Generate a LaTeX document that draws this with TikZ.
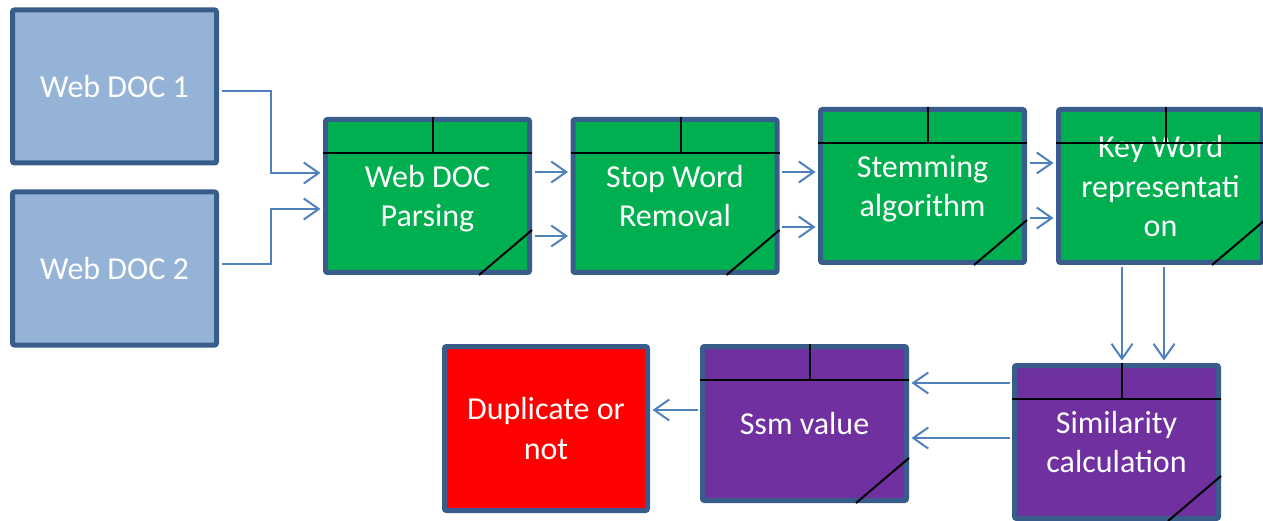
\documentclass[tikz,border=0pt]{standalone}
\usepackage{fontspec}
\setmainfont{Carlito}
\usetikzlibrary{arrows.meta,calc}
\definecolor{bluefill}{HTML}{95B3D7}
\definecolor{bordercol}{HTML}{385D8A}
\definecolor{greenfill}{HTML}{00B050}
\definecolor{purplefill}{HTML}{7030A0}
\definecolor{redfill}{HTML}{FF0000}
\definecolor{conncol}{HTML}{4F81BD}
\tikzset{
  procbox/.style={draw=bordercol, line width=5pt, rounded corners=2pt,
    minimum width=204pt, minimum height=153pt, inner sep=0pt,
    text=white, align=center, font=\fontsize{32}{39.5}\selectfont,
    text depth=0pt},
  docbox/.style={procbox, fill=bluefill},
  greenbox/.style={procbox, fill=greenfill},
  purplebox/.style={procbox, fill=purplefill},
  redbox/.style={procbox, fill=redfill},
  innerline/.style={draw=black, line width=2pt},
  conn/.style={draw=conncol, line width=2pt, shorten >=2.5pt,
    -{Straight Barb[length=15pt,width=21pt,line width=2pt]}},
}
\newcommand{\boxdeco}[1]{%
  \draw[innerline] ($(#1.north west)+(0,36)$) -- ($(#1.north east)+(0,36)$);
  \draw[innerline] ($(#1.north)+(5.5,0)$) -- ($(#1.north)+(5.5,36)$);
  \draw[innerline] ($(#1.south east)+(-53,0)$) -- ($(#1.south east)+(0,-45)$);
}
\begin{document}
\begin{tikzpicture}[x=1pt,y=-1pt]
\useasboundingbox (0,0) rectangle (1263,521);

\path (114.5,86.5) node[docbox] (w1) {Web DOC 1};
\path (114.5,268.5) node[docbox] (w2) {Web DOC 2};
\path (427.5,196) node[greenbox] (g1) {Web DOC\\Parsing};
\path (675,196) node[greenbox] (g2) {Stop Word\\Removal};
\path (922.5,186) node[greenbox] (g3) {Stemming\\algorithm};
\path (1160.5,186) node[greenbox] (g4) {Key Word\\representati\\on};
\path (546,428.5) node[redbox, minimum width=203pt, minimum height=164pt] (rd) {Duplicate or\\not};
\path (804.5,423.5) node[purplebox, minimum height=154pt] (ssm) {Ssm value};
\path (1116.5,442) node[purplebox] (sim) {Similarity\\calculation};

\foreach \n in {g1,g2,g3,g4,ssm,sim}{\boxdeco{\n}}

\draw[conn] ($(w1.east|-0,91)+(2.5,0)$) -- (271,91) -- (271,173) -- (g1.west|-0,173);
\draw[conn] ($(w2.east|-0,264)+(2.5,0)$) -- (271,264) -- (271,209) -- (g1.west|-0,209);
\draw[conn] ($(g1.east|-0,172)+(2.5,0)$) -- (g2.west|-0,172);
\draw[conn] ($(g1.east|-0,236)+(2.5,0)$) -- (g2.west|-0,236);
\draw[conn] ($(g2.east|-0,172)+(2.5,0)$) -- (g3.west|-0,172);
\draw[conn] ($(g2.east|-0,227)+(2.5,0)$) -- (g3.west|-0,227);
\draw[conn] ($(g3.east|-0,163)+(2.5,0)$) -- (g4.west|-0,163);
\draw[conn] ($(g3.east|-0,218)+(2.5,0)$) -- (g4.west|-0,218);
\draw[conn] ($(g4.south-|1122,0)+(0,2.5)$) -- (sim.north-|1122,0);
\draw[conn] ($(g4.south-|1164,0)+(0,2.5)$) -- (sim.north-|1164,0);
\draw[conn] ($(sim.west|-0,383)+(-2.5,0)$) -- (ssm.east|-0,383);
\draw[conn] ($(sim.west|-0,438)+(-2.5,0)$) -- (ssm.east|-0,438);
\draw[conn] ($(ssm.west|-0,410)+(-2.5,0)$) -- (rd.east|-0,410);
\end{tikzpicture}
\end{document}
